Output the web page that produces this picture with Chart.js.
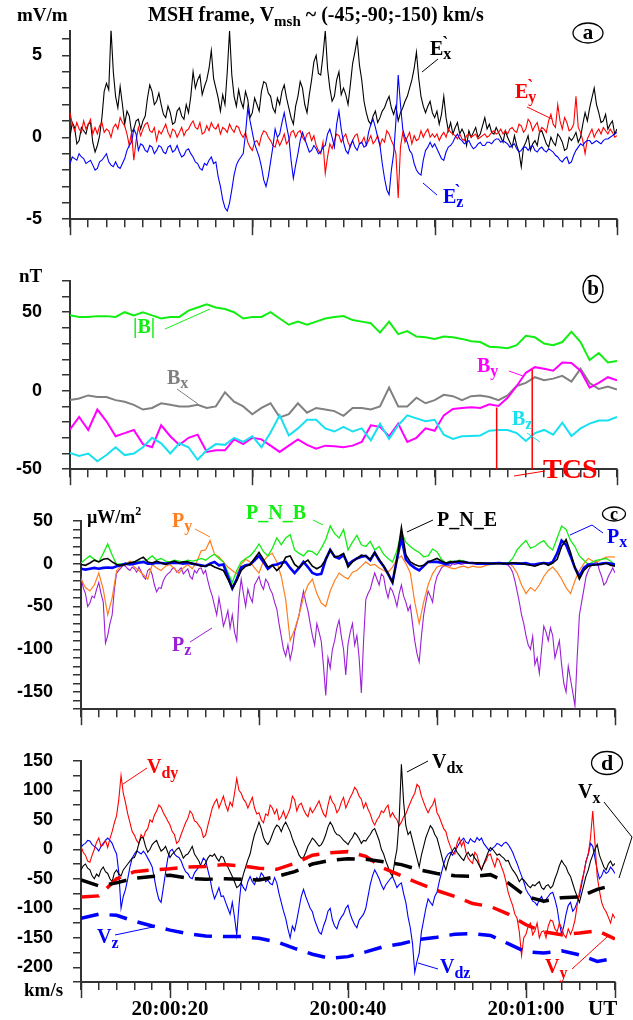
<!DOCTYPE html>
<html>
<head>
<meta charset="utf-8">
<script src="https://cdn.jsdelivr.net/npm/chart.js@4.4.0/dist/chart.umd.min.js"></script>
<style>
body{margin:0;background:#fff;}
#wrap{position:relative;width:633px;height:1020px;overflow:hidden;}
canvas{position:absolute;left:0;}
</style>
</head>
<body>
<div id="wrap">
<canvas id="pa" width="633" height="250" style="top:0px"></canvas>
<canvas id="pb" width="633" height="250" style="top:250px"></canvas>
<canvas id="pc" width="633" height="250" style="top:490px"></canvas>
<canvas id="pd" width="633" height="290" style="top:730px"></canvas>
</div>
<script>
/* =========================
   DATA  (seconds after 20:00:00)
========================= */

const T_START = 10;
const T_END = 70;
const STEP_Q = 0.25;     // densest traces
const STEP_FINE = 0.5;   // other noisy traces
const STEP_B = 1;        // magnetic field
const STEP_MODEL = 2;    // dashed model velocity

const timeLabels = ['20:00:20', '20:00:40', '20:01:00'];
const timeLabelAt = [20, 40, 60];

// panel a : electric field, mV/m  (0.25 s)
const exVals = [0.0,0.9,0.6,-0.4,-0.2,0.6,0.4,0.2,0.8,0.9,-0.3,-0.9,-0.5,0.1,1.2,2.8,3.3,2.9,6.6,4.0,
 2.5,1.8,3.1,2.0,0.8,1.6,1.3,0.3,0.5,1.0,1.1,0.5,1.0,1.3,2.4,3.2,2.8,2.0,2.2,2.7,
 2.0,1.4,1.2,1.9,1.5,0.8,0.9,1.6,1.8,1.3,1.1,2.0,1.5,2.5,4.0,3.0,3.5,3.8,2.6,3.1,
 3.5,4.2,5.3,3.6,3.0,2.4,1.6,2.6,2.0,4.0,6.5,3.8,2.5,1.9,2.9,2.2,1.8,2.8,2.3,1.2,
 1.5,2.4,2.0,1.6,2.8,3.4,3.3,2.7,2.5,1.8,1.5,2.4,2.0,2.8,3.2,2.4,1.8,1.2,0.8,1.9,
 2.5,3.4,3.0,2.0,1.5,2.6,3.5,4.6,5.0,3.9,3.8,5.0,6.5,4.2,3.0,2.2,2.5,3.5,4.0,2.6,
 3.0,2.6,2.0,3.2,4.5,5.2,6.0,4.4,3.5,2.2,1.5,1.0,0.8,1.3,1.6,0.9,1.2,1.6,1.8,2.2,
 2.5,1.8,1.4,1.9,1.0,1.5,1.8,2.2,2.5,3.0,3.5,4.2,5.2,3.6,2.5,1.9,1.5,1.9,2.2,1.5,
 1.2,1.6,0.8,1.4,2.5,1.2,0.4,0.9,0.2,0.6,0.9,0.2,0.5,0.2,-0.5,0.4,0.0,0.3,0.6,0.0,
 0.2,0.7,1.2,0.5,0.8,0.3,0.2,0.6,0.3,0.0,-0.3,0.4,0.0,-0.3,-0.6,0.1,-0.5,-0.9,-1.8,-0.6,
 -0.3,0.1,-0.8,-0.4,-0.2,-0.5,0.3,0.4,0.0,-0.4,-0.6,0.0,-0.3,-0.5,0.2,0.0,-0.3,-0.8,-0.7,0.0,
 -0.2,0.0,0.3,-0.3,0.0,0.8,1.5,1.0,1.8,2.4,3.0,2.0,1.5,0.9,1.0,1.4,0.5,0.8,1.0,0.2,
 0.5];
const eyVals = [1.5,0.8,0.4,0.9,0.5,0.3,1.0,0.5,0.8,1.1,0.2,0.6,0.2,0.7,0.9,0.3,0.5,0.4,0.0,0.6,
 0.8,0.5,1.2,0.9,0.7,0.2,-0.5,0.3,-1.4,-0.2,0.6,0.1,0.5,0.8,0.9,0.4,0.3,0.6,-0.2,0.4,
 0.2,0.5,0.8,0.3,0.0,0.5,0.4,0.0,0.3,0.6,0.1,0.4,0.5,0.8,1.0,0.6,0.5,0.9,0.2,0.3,
 0.7,0.4,0.9,0.6,0.5,0.8,0.2,0.6,0.5,0.3,0.8,0.5,0.3,0.7,0.6,0.2,0.0,0.3,-0.3,-0.6,
 -0.8,-0.3,-0.2,-0.5,0.1,0.4,0.3,0.0,-0.2,-0.5,-0.6,-0.1,-0.5,-0.2,0.2,-0.4,-0.2,0.3,0.4,0.0,
 0.3,0.4,0.0,-0.2,0.2,0.3,-0.2,0.1,-0.5,-0.8,-1.0,-0.3,-2.2,-1.2,-0.4,-0.7,-0.2,0.2,0.1,-0.3,
 0.0,0.2,-0.3,-0.6,-0.2,0.1,0.2,-0.4,-0.3,0.0,-0.5,-0.2,0.1,-0.4,-0.2,0.1,-0.5,-0.1,-0.3,0.4,
 0.2,-0.2,-0.5,-1.0,-3.7,-0.6,0.3,-0.3,0.0,0.3,-0.4,0.1,-0.2,-0.1,0.4,0.0,0.3,0.5,0.0,0.2,
 0.0,0.2,-0.2,0.1,0.3,0.0,0.5,0.3,0.2,0.1,-0.1,0.2,-0.1,-0.2,0.1,0.2,0.0,0.1,0.2,-0.1,
 0.0,0.1,0.2,0.0,0.1,0.3,0.4,0.2,0.3,0.5,0.2,0.4,0.2,0.5,0.6,0.4,0.3,0.8,0.7,0.3,
 0.5,1.1,0.9,0.4,0.7,0.9,0.3,0.6,0.5,0.3,1.0,1.4,0.8,0.6,2.0,1.0,0.5,1.2,0.9,0.4,
 0.5,0.8,2.5,0.6,0.3,-0.2,-1.0,-0.1,0.2,0.5,0.0,0.3,0.5,0.2,0.6,0.4,0.2,0.5,0.3,0.0,
 0.1];
const ezVals = [-1.6,-1.2,-1.3,-1.4,-1.0,-1.2,-1.3,-1.6,-1.5,-1.4,-1.7,-2.0,-1.9,-1.5,-1.4,-1.2,-1.0,-1.5,-1.7,-1.8,
 -1.5,-1.8,-1.9,-1.6,-1.3,-0.8,-0.5,-0.3,0.5,0.2,-0.8,-0.4,-0.5,-0.8,-0.9,-0.5,-0.6,-1.0,-0.8,-0.5,
 -0.6,-0.9,-1.0,-0.6,-0.5,-0.9,-0.8,-0.5,-0.9,-1.2,-1.1,-0.8,-0.7,-1.0,-1.2,-1.5,-1.6,-1.9,-2.0,-1.6,
 -1.7,-1.4,-1.2,-1.6,-1.5,-2.4,-3.0,-3.8,-4.3,-4.5,-4.0,-3.2,-2.3,-1.7,-1.4,-1.2,-1.0,0.2,1.8,1.0,
 0.3,-0.4,-0.8,-1.2,-1.8,-2.6,-3.0,-2.4,-1.5,-0.6,0.5,0.0,0.2,0.9,1.5,0.7,0.0,-1.4,-2.5,-1.7,
 -1.0,-0.2,0.3,-0.1,-0.5,-0.9,-0.8,-0.5,-0.7,-1.0,-0.9,-0.6,-0.5,0.2,0.5,0.0,-0.6,0.8,1.6,0.5,
 -0.3,-0.8,-1.0,-0.5,-0.2,-0.6,-0.8,-0.4,-0.3,-0.6,-0.5,0.3,0.8,1.1,0.6,0.0,-0.5,-1.6,-2.5,-3.2,
 -3.5,-2.0,-1.0,1.0,3.8,2.0,0.5,0.0,-0.3,-0.8,-1.0,-1.6,-2.0,-2.2,-2.3,-1.4,-0.8,-0.6,-0.3,-0.6,
 -0.4,-0.7,-1.0,-1.3,-1.4,-0.9,-0.6,-0.5,-0.3,0.0,0.2,-0.1,-0.2,-0.4,-0.3,-0.2,-0.5,-0.7,-0.6,-0.4,
 -0.3,-0.5,-0.5,-0.3,-0.3,-0.4,-0.2,-0.1,-0.1,-0.3,-0.2,-0.3,-0.4,-0.6,-0.5,-0.4,-0.7,-0.9,-0.8,-0.6,
 -0.6,-0.8,-0.6,-0.5,-0.8,-0.9,-0.7,-0.6,-0.8,-0.9,-0.7,-0.8,-0.9,-1.1,-1.2,-1.4,-1.5,-1.3,-1.2,-1.6,
 -1.5,-1.1,-0.8,-0.6,-0.4,-0.5,-0.3,-0.2,-0.2,-0.4,-0.3,-0.2,-0.3,-0.4,-0.2,-0.1,-0.1,0.0,0.1,0.2,
 0.3];

// panel b : magnetic field, nT  (1 s)
const bAbsVals = [48,47,47,47.5,47.5,47,50,48,50,48,
 46,47,47,51,53,55,53,52,50,46,
 47,47,50,46,42,44,42,44,46,47,
 47.5,45,44,43,37,44,36,38,34.5,34,
 33,34.5,34,33,31.5,31,28,27.7,27,29,
 35,34,30,29,31,37.6,31,19.5,24,18,
 19];
const bxVals = [-6,-5,-3,-4,-4,-6,-7,-9,-12,-11,
 -8,-9,-10,-10,-9,-11,-10,-1,-7,-10,
 -15,-11,-8,-17,-15,-8,-14,-11,-12,-13,
 -16,-11,-11,-12,-10,2,-10,-10,-4.5,-8,
 -6,-2.6,-3.5,-6,-3.5,-3,-4,-6,-3,3,
 5,8.6,6.7,7.7,9.5,5.8,13.9,4.9,1.1,2.6,
 0.7];
const byVals = [-24.7,-16.7,-25,-12,-19.5,-29,-27,-25,-34,-36,
 -22,-29,-34.5,-30,-28,-39,-38,-38,-31,-34,
 -30,-31,-35,-39,-35,-31,-34.5,-37,-35,-35.4,
 -36,-35,-32.6,-22,-23,-29,-21,-32.6,-30,-24,
 -25.5,-15.7,-11.6,-11,-10.5,-11,-8.6,-9.7,-4.5,3,
 11.4,15,14,12.7,18,17.6,12.7,2,5,8.6,
 6.7];
const bzVals = [-39.7,-41.6,-40,-45,-41,-36,-41,-40,-36,-30,
 -33.5,-40,-33.5,-36,-44,-38,-34,-34.5,-30,-32.6,
 -29,-36,-26.6,-15.7,-28.5,-24,-18.5,-18.5,-24,-26,
 -23,-26,-24,-31.6,-21,-30.7,-22,-15.7,-17.6,-19.5,
 -18.5,-28,-30.7,-29,-28.8,-28.5,-25.5,-25,-25,-27,
 -32,-27,-25,-28,-20.4,-28.8,-24,-21,-19,-19,
 -16.7];
const tcsTimes = [56.8, 60.7];
const tcsTops = [-10.7, 13.5];

// panel c : Poynting flux, uW/m2
const pzVals = [-15,-28,-35,-50,-46,-38,-40,-30,-22,-35,-45,-93,-84,-70,-60,-30,-11,-8,-5,-2,
 -3,-6,-8,-4,-6,-10,-4,-9,-15,-18,-8,-6,-13,-25,-33,-28,-29,-20,-15,-12,
 -10,-6,-5,-10,-8,-5,-12,-9,-6,-15,-18,-8,-11,-6,-5,-12,-8,-20,-30,-38,
 -49,-60,-40,-55,-73,-65,-55,-75,-60,-80,-90,-40,-18,-35,-50,-30,-39,-45,-25,-20,
 -15,-25,-30,-18,-22,-30,-35,-45,-53,-70,-85,-100,-108,-95,-112,-100,-80,-70,-60,-45,
 -32,-45,-55,-70,-84,-95,-70,-80,-91,-120,-154,-110,-122,-100,-90,-75,-66,-85,-100,-130,
 -94,-80,-70,-95,-84,-110,-151,-90,-42,-35,-30,-20,-11,-18,-25,-12,-15,-30,-40,-28,
 -32,-40,-50,-35,-25,-38,-45,-55,-49,-70,-90,-105,-115,-85,-60,-45,-32,-38,-45,-25,
 -15,-10,-5,-3,-1,-2,-3,0,-1,0,0,-1,0,0.5,1,0,0.7,0.5,0,0.5,
 0.7,0.3,0.5,0.6,0.7,0.4,0.5,0.7,0.7,0.3,0,-1,-2,-5,-10,-20,-32,-45,-60,-70,
 -84,-95,-100,-85,-118,-110,-128,-100,-73,-80,-90,-75,-84,-110,-100,-90,-118,-140,-150,-120,
 -135,-150,-166,-110,-60,-45,-30,-15,-8,-3,0,1,2,-8,-15,-25,-22,-15,-10,-5,
 -11];
const pyVals = [-18,-28,-32,-25,-11,-30,-60,-40,-8,-3,
 -1,3,-4,-8,-13,-18,-1,-5,-8,-3,
 -1,-6,-11,-5,-1,-6,2,15,16,27,
 11,8,2,-4,-8,-12,-1,5,2,-5,
 -11,3,9,12,2,-15,-42,-90,-77,-60,
 -39,-25,-18,-35,-46,-50,-32,-20,-11,-15,
 -18,-10,-8,-3,2,-2,-1,-5,-8,-10,
 -4,5,9,0,-11,-45,-70,-45,-25,-12,
 -4,-2,-3,-5,-6,-4,-3,-5,-3,-4,
 -4,-2,-1,0,0.7,0,0.7,-3,-11,-25,
 -35,-28,-32,-25,-15,-8,-4,-10,-18,-28,
 -35,-20,-8,0,6,3,2,5,7.6,8,
 7.6];
const pnbVals = [0.7,5,9,5,2,12,23,10,-1,0,
 -1,1,0.7,3,2,5,9,4,6,3,
 2,4,3,2,4,3,4,6,4,8,
 11,6,2,-10,-22,-8,2,6,9,15,
 23,14,9,18,30,22,30,34,16,12,
 9,15,14,10,18,28,44,35,30,40,
 16,25,33,22,20,26,16,20,11,6,
 2,15,37,25,20,16,13,8,9,17,
 14,5,0.7,3,2,4,3,1,0.7,0,
 0.7,0,0.7,0,0.7,1,0.7,6,16,22,
 27,18,20,24,27,20,16,30,44,40,
 27,20,9,4,-1,2,4,5,6,3,
 -1];
const pneVals = [-1,-2,0.7,4,2,5,6,2,-1,-2,
 -1,1,2,5,7.6,2,0.7,3,0.7,-1,
 1.4,3,0.7,2,2,0,-1,-3,-3,-1,
 -4,-6,-8,-18,-29,-20,-8,-3,-1,6,
 13,5,-4,-2,-8,-3,7.6,9,-1,-5,
 0.7,4,-3,-6,-3,5,16,8,9,12,
 -4,2,6,10,9,5,13,5,-3,-12,
 -22,5,42,10,2,-1,-3,-2,2,4,
 6,3,0.7,2,2,3,2,1,0.7,1,
 0.7,0.5,0,0,0,0,0,1,0.7,0,
 -1,-2,-3,-1,0.7,-2,0.7,5,20,28,
 13,-5,-18,-8,-3,-2,-1,-1,0.7,-2,
 -3];
const pxVals = [-6,-7,-6,-5,-6,-5,-4.5,-5,-3,-2,
 0,-1,0,1,2,0,0,1,0.7,0,
 0.7,1,0.7,0,0.7,0,-1,-2,-3,0,
 2,-2,-1,-15,-29,-18,-4.5,-2,-1,4,
 9,2,-6,-2,-1,1,2,-5,-11,-5,
 2,-4,-11,-13,-12,5,16,8,6,10,
 -1,3,6,8,9,4,13,4,-3,-12,
 -22,5,30,5,-1,-5,-8,-3,2,2,
 2,1,-1,1,2,1,2,1,0.7,0,
 0,0,0,0.5,0.7,0,0,0.5,0,0,
 0.7,-1,-1,0,0.7,0,2,12,27,22,
 9,-5,-15,-5,-1,-1,-1,0,0.7,0,
 -1];

// panel d : velocities, km/s
const vdyVals = [5,-5,-10,-20,-22,-10,0,12,19,5,8,15,3,18,30,45,57,85,125,95,
 79,60,45,30,24,15,10,25,19,30,35,50,46,58,65,75,71,62,55,48,
 41,30,25,10,14,25,35,45,52,65,60,48,46,40,35,20,24,40,55,70,
 79,85,70,80,90,75,65,80,73,95,120,100,95,85,80,70,79,88,70,60,
 62,50,45,60,57,75,70,60,68,50,55,65,52,60,70,90,84,65,75,78,
 68,60,55,70,62,68,75,82,70,60,55,75,90,80,75,62,68,80,88,70,
 79,88,95,105,100,90,85,70,79,68,60,48,41,50,55,65,62,70,75,55,
 62,55,50,40,46,55,60,70,79,88,95,110,106,90,80,70,62,70,75,85,
 62,55,45,35,30,15,5,-5,-8,10,20,5,14,-5,-15,-20,-24,-5,-10,-25,
 -35,-25,-20,-10,-8,-20,-30,-15,-19,-30,-40,-55,-73,-85,-95,-110,-117,-140,-180,-150,
 -144,-130,-125,-145,-138,-125,-150,-140,-138,-150,-130,-120,-122,-135,-140,-125,-133,-145,-150,-135,
 -144,-135,-120,-95,-73,-55,-40,-20,-8,20,65,10,-46,-70,-90,-100,-106,-115,-125,-110,
 -117];
const vdxVals = [-35,-28,-25,-32,-35,-45,-50,-42,-46,-35,-30,-38,-41,-50,-55,-40,-35,-42,-45,-35,
 -30,-25,-20,-15,-14,-5,10,20,19,5,-5,0,8,12,15,5,-3,0,5,-5,
 -14,-8,-5,0,3,-5,-15,-10,-8,-2,5,-8,-14,-20,-30,-28,-24,-15,-10,-12,
 -8,-15,-20,-12,-14,-25,-30,-38,-46,-55,-65,-62,-57,-42,-30,-18,-8,10,25,35,
 46,35,20,12,8,15,25,35,41,38,30,40,46,38,30,18,8,0,-10,-15,
 -14,-5,5,12,19,15,10,5,8,15,25,38,46,40,30,25,24,20,15,12,
 8,15,20,28,24,18,10,15,14,20,25,32,35,25,15,0,-8,-20,-30,-40,
 -46,-20,0,50,144,80,40,25,30,15,0,-15,-30,-10,5,20,30,40,35,25,
 19,5,-10,-25,-35,-20,-10,-2,3,-5,-10,-15,-19,-10,-5,-12,-8,-15,-20,-28,
 -35,-25,-15,-5,3,0,-5,-10,-8,-12,-15,-20,-19,-28,-35,-40,-46,-55,-50,-52,
 -57,-62,-65,-60,-62,-58,-55,-65,-68,-62,-60,-66,-62,-50,-40,-28,-19,-25,-30,-40,
 -46,-58,-70,-80,-90,-75,-60,-45,-35,-20,-10,0,8,-10,-20,-30,-35,-25,-20,-28,
 -24];
const vdzVals = [3,8,10,15,14,8,5,2,-3,5,10,15,19,15,10,0,-8,-40,-100,-80,
 -68,-50,-30,-15,-8,-3,-5,-8,-3,-8,-15,-22,-30,-50,-70,-85,-90,-65,-40,-15,
 -3,0,-8,-12,-14,-20,-30,-38,-41,-48,-50,-40,-35,-30,-25,-15,-19,-35,-50,-70,
 -84,-75,-65,-80,-79,-90,-100,-110,-90,-115,-145,-95,-57,-65,-70,-55,-46,-55,-60,-48,
 -52,-40,-45,-55,-52,-58,-60,-48,-57,-75,-90,-105,-117,-135,-150,-130,-138,-120,-100,-80,
 -68,-80,-90,-100,-106,-120,-130,-140,-144,-130,-120,-105,-100,-120,-130,-135,-122,-115,-110,-100,
 -95,-110,-120,-128,-133,-120,-115,-110,-100,-80,-60,-45,-35,-42,-50,-60,-68,-60,-55,-50,
 -46,-55,-65,-60,-57,-75,-90,-115,-133,-160,-209,-190,-176,-140,-120,-100,-84,-90,-95,-80,
 -73,-55,-40,-25,-14,-8,-5,-10,-3,3,10,15,19,12,10,18,14,12,20,15,
 19,10,5,0,-3,2,5,10,8,5,10,12,8,2,-5,-15,-24,-35,-45,-55,
 -68,-75,-80,-88,-90,-95,-85,-80,-90,-85,-80,-75,-73,-85,-100,-125,-144,-130,-110,-95,
 -90,-105,-100,-90,-79,-60,-40,-20,-8,10,5,-15,-35,-50,-45,-35,-41,-38,-30,-35,
 -41];
const vxModel = [-52,-62,-57,-49,-46,-44,-49,-51,-50,-51,-52,-46,-38,-25,-19,-16,
 -17,-21,-26,-35,-41,-45,-46,-43,-57,-80,-88,-82,-81,-68,-60];
const vyModel = [-81,-79,-50,-38,-35,-33,-30,-29,-26,-28,-32,-34,-24,-10,-6,-4,
 -12,-32,-45,-58,-70,-80,-92,-97,-110,-128,-140,-145,-142,-138,-152];
const vzModel = [-117,-110,-112,-122,-130,-137,-143,-147,-148,-148,-151,-157,-168,-178,-185,-182,
 -174,-165,-160,-153,-149,-144,-143,-146,-160,-174,-176,-172,-179,-190,-185];


/* =========================
   HELPERS
========================= */

const AXIS = '#333333';
const GREEN = '#11ee11';
const SERIF = '"Liberation Serif", "Times New Roman", serif';

function pts(vals, step){
    return vals.map((v, i) => ({ x: T_START + i * step, y: v }));
}

function range(a, b, s){
    let out = [];
    for(let v = a; v <= b + 1e-9; v += s){ out.push(Math.round(v * 100) / 100); }
    return out;
}

function line(color, vals, step, width, dash){
    return {
        data: pts(vals, step),
        borderColor: color,
        borderWidth: width,
        borderDash: dash || [],
        pointRadius: 0,
        tension: 0,
        fill: false
    };
}

// parts: [text, size, dy, dx]
function txt(ctx, x, y, color, parts){
    ctx.fillStyle = color;
    ctx.textAlign = 'left';
    ctx.textBaseline = 'alphabetic';
    let cx = x;
    for(const p of parts){
        ctx.font = 'bold ' + p[1] + 'px ' + SERIF;
        cx += p[3] || 0;
        ctx.fillText(p[0], cx, y + (p[2] || 0));
        cx += ctx.measureText(p[0]).width;
    }
}

function poly(ctx, color, list, w){
    ctx.strokeStyle = color;
    ctx.lineWidth = w || 1;
    ctx.setLineDash([]);
    ctx.beginPath();
    ctx.moveTo(list[0][0], list[0][1]);
    for(let i = 1; i < list.length; i++){ ctx.lineTo(list[i][0], list[i][1]); }
    ctx.stroke();
}

function circled(ctx, cx, cy, rx, ry, letter, size){
    ctx.strokeStyle = '#000';
    ctx.lineWidth = 1.3;
    ctx.beginPath();
    ctx.ellipse(cx, cy, rx, ry, 0, 0, Math.PI * 2);
    ctx.stroke();
    ctx.fillStyle = '#000';
    ctx.font = 'bold ' + size + 'px ' + SERIF;
    ctx.textAlign = 'center';
    ctx.textBaseline = 'middle';
    ctx.fillText(letter, cx, cy + 1);
}


/* =========================
   PANEL FACTORY
========================= */

function makePanel(cfg){

    const canvas = document.getElementById(cfg.id);
    const top = cfg.canvasTop;
    const h = canvas.height;

    const extra = {
        id: 'extra_' + cfg.id,
        afterDraw(chart){
            const ctx = chart.ctx;
            const x = chart.scales.x;
            const area = chart.chartArea;
            ctx.save();

            // long major ticks
            ctx.strokeStyle = AXIS;
            ctx.lineWidth = 1.5;
            ctx.setLineDash([]);
            cfg.majors.forEach(t => {
                const px = Math.round(x.getPixelForValue(t)) + 0.5;
                ctx.beginPath();
                ctx.moveTo(px, area.bottom);
                ctx.lineTo(px, area.bottom + 16);
                ctx.stroke();
            });

            ctx.translate(0, -top);
            cfg.draw(ctx, chart);
            ctx.restore();
        }
    };

    return new Chart(canvas, {
        type: 'line',
        data: { datasets: cfg.datasets },
        options: {
            responsive: false,
            animation: false,
            events: [],
            layout: {
                padding: { left: 0, right: 633 - cfg.right, top: cfg.top - top, bottom: 0 }
            },
            plugins: { legend: { display: false }, tooltip: { enabled: false } },
            scales: {
                x: {
                    type: 'linear',
                    min: T_START,
                    max: T_END,
                    afterFit: s => { s.height = top + h - cfg.bottom; },
                    afterBuildTicks: s => { s.ticks = range(T_START, T_END, 2).map(v => ({ value: v })); },
                    ticks: { callback: () => '', autoSkip: false, maxRotation: 0, padding: 0 },
                    grid: { drawOnChartArea: false, drawTicks: true, tickLength: 8, color: AXIS, lineWidth: 1.5 },
                    border: { display: true, color: AXIS, width: 2 }
                },
                y: {
                    min: cfg.yMin,
                    max: cfg.yMax,
                    afterFit: s => { s.width = cfg.left; },
                    afterBuildTicks: s => { s.ticks = cfg.yTicks.map(v => ({ value: v })); },
                    ticks: {
                        autoSkip: false,
                        padding: 20,
                        color: '#000',
                        font: { family: '"Liberation Sans", Arial, sans-serif', weight: 'bold', size: 18 },
                        callback: v => (v % cfg.yLabelEvery === 0 ? String(v) : '')
                    },
                    grid: { drawOnChartArea: false, drawTicks: true, tickLength: 8, color: AXIS, lineWidth: 1.5 },
                    border: { display: true, color: AXIS, width: 2 }
                }
            }
        },
        plugins: [extra]
    });
}


/* =========================
   PANEL A
========================= */

makePanel({
    id: 'pa', canvasTop: 0,
    left: 70, right: 617, top: 25, bottom: 230,
    yMin: -5, yMax: 6.5, yTicks: range(-5, 6, 1), yLabelEvery: 5,
    majors: [10, 30, 50, 70],
    datasets: [
        line('#0000ff', ezVals, STEP_Q, 1.1),
        line('#ff0000', eyVals, STEP_Q, 1.1),
        line('#000000', exVals, STEP_Q, 1.1)
    ],
    draw(ctx){
        txt(ctx, 17, 21, '#000', [['mV/m', 19]]);
        txt(ctx, 148, 21, '#000', [['MSH frame, V', 20], ['msh', 15, 5], [' ~ (-45;-90;-150) km/s', 20]]);
        circled(ctx, 588, 33, 15, 10, 'a', 21);

        txt(ctx, 430, 55, '#000', [['E', 20], ['x', 16, 4], ['`', 18, -6, -9]]);
        poly(ctx, '#000', [[422, 72], [438, 59]]);

        txt(ctx, 515, 98, '#ff0000', [['E', 20], ['y', 16, 4], ['`', 18, -6, -9]]);
        poly(ctx, '#ff0000', [[527, 107], [552, 119]]);

        txt(ctx, 443, 203, '#0000ff', [['E', 20], ['z', 16, 4], ['`', 18, -6, -9]]);
        poly(ctx, '#0000ff', [[423, 183], [437, 195]]);
    }
});


/* =========================
   PANEL B
========================= */

makePanel({
    id: 'pb', canvasTop: 250,
    left: 70, right: 617, top: 269, bottom: 482,
    yMin: -50, yMax: 70, yTicks: range(-50, 70, 10), yLabelEvery: 50,
    majors: [10, 30, 50, 70],
    datasets: [
        line('#18e0f0', bzVals, STEP_B, 2),
        line('#ff00ff', byVals, STEP_B, 2),
        line('#808080', bxVals, STEP_B, 2),
        line(GREEN, bAbsVals, STEP_B, 2)
    ],
    draw(ctx, chart){
        const x = chart.scales.x, y = chart.scales.y;

        // TCS markers
        tcsTimes.forEach((t, i) => {
            const px = x.getPixelForValue(t);
            poly(ctx, '#ff0000', [[px, y.getPixelForValue(-50) + 250], [px, y.getPixelForValue(tcsTops[i]) + 250]], 1.5);
        });

        txt(ctx, 19, 282, '#000', [['nT', 19]]);
        circled(ctx, 593, 289, 10, 13.5, 'b', 21);

        txt(ctx, 133, 333, GREEN, [['|B|', 20]]);
        poly(ctx, GREEN, [[165, 329], [210, 309]]);

        txt(ctx, 167, 384, '#808080', [['B', 20], ['x', 16, 4]]);
        poly(ctx, '#808080', [[177, 389], [198, 404]]);

        txt(ctx, 477, 372, '#ff00ff', [['B', 20], ['y', 16, 4]]);
        poly(ctx, '#ff00ff', [[509, 371], [523, 376]]);

        txt(ctx, 512, 425, '#18e0f0', [['B', 20], ['z', 16, 4]]);
        poly(ctx, '#18e0f0', [[527, 433], [540, 442]]);

        txt(ctx, 543, 478, '#ff0000', [['TCS', 28]]);
        poly(ctx, '#ff0000', [[514, 476], [545, 471]]);
    }
});


/* =========================
   PANEL C
========================= */

makePanel({
    id: 'pc', canvasTop: 490,
    left: 81, right: 615, top: 511, bottom: 723,
    yMin: -170, yMax: 50, yTicks: range(-170, 50, 10), yLabelEvery: 50,
    majors: [10, 30, 50, 70],
    datasets: [
        line('#000000', pneVals, STEP_FINE, 1.6),
        line('#0000ff', pxVals, STEP_FINE, 2.6),
        line(GREEN, pnbVals, STEP_FINE, 1.3),
        line('#ff7f1e', pyVals, STEP_FINE, 1.2),
        line('#9b1fd6', pzVals, STEP_Q, 1.1)
    ],
    draw(ctx){
        txt(ctx, 87, 523, '#000', [['\u00b5W/m', 18], ['2', 12, -8]]);
        circled(ctx, 614, 514, 11.5, 7, 'c', 18);

        txt(ctx, 172, 527, '#ff7f1e', [['P', 20], ['y', 16, 4]]);
        poly(ctx, '#ff7f1e', [[195, 529], [210, 537]]);

        txt(ctx, 246, 519, GREEN, [['P_N_B', 20]]);
        poly(ctx, GREEN, [[313, 520], [323, 525]]);

        txt(ctx, 172, 651, '#9b1fd6', [['P', 20], ['z', 16, 4]]);
        poly(ctx, '#9b1fd6', [[190, 642], [212, 628]]);

        txt(ctx, 437, 526, '#000', [['P_N_E', 20]]);
        poly(ctx, '#000', [[407, 532], [433, 520]]);

        txt(ctx, 607, 543, '#0000ff', [['P', 20], ['x', 16, 4]]);
        poly(ctx, '#0000ff', [[570, 535], [592, 525], [603, 533]]);
    }
});


/* =========================
   PANEL D
========================= */

makePanel({
    id: 'pd', canvasTop: 730,
    left: 81, right: 615, top: 752, bottom: 982,
    yMin: -225, yMax: 150, yTicks: range(-225, 150, 25), yLabelEvery: 50,
    majors: [10, 20, 40, 60, 70],
    datasets: [
        line('#000000', vxModel, STEP_MODEL, 3.5, [18, 11]),
        line('#ff0000', vyModel, STEP_MODEL, 3.5, [18, 11]),
        line('#0000ff', vzModel, STEP_MODEL, 3.5, [18, 11]),
        line('#000000', vdxVals, STEP_Q, 1.1),
        line('#ff0000', vdyVals, STEP_Q, 1.1),
        line('#0000ff', vdzVals, STEP_Q, 1.1)
    ],
    draw(ctx, chart){
        const x = chart.scales.x;

        // time labels
        ctx.fillStyle = '#000';
        ctx.font = 'bold 21px ' + SERIF;
        ctx.textAlign = 'center';
        ctx.textBaseline = 'alphabetic';
        timeLabels.forEach((s, i) => {
            ctx.fillText(s, x.getPixelForValue(timeLabelAt[i]), 1015);
        });
        txt(ctx, 588, 1015, '#000', [['UT', 21]]);
        txt(ctx, 24, 996, '#000', [['km/s', 19]]);

        circled(ctx, 607, 763, 15.5, 11.5, 'd', 22);

        txt(ctx, 147, 773, '#ff0000', [['V', 20], ['dy', 16, 5]]);
        poly(ctx, '#ff0000', [[123, 784], [147, 768]]);

        txt(ctx, 97, 943, '#0000ff', [['V', 20], ['z', 16, 5]]);
        poly(ctx, '#0000ff', [[115, 935], [153, 927]]);

        txt(ctx, 432, 768, '#000', [['V', 20], ['dx', 16, 5]]);
        poly(ctx, '#000', [[407, 772], [428, 761]]);

        txt(ctx, 440, 973, '#0000ff', [['V', 20], ['dz', 16, 5]]);
        poly(ctx, '#0000ff', [[418, 963], [438, 969]]);

        txt(ctx, 578, 798, '#000', [['V', 20], ['x', 16, 5]]);
        poly(ctx, '#000', [[604, 802], [632, 837], [619, 878]]);

        txt(ctx, 545, 973, '#ff0000', [['V', 20], ['y', 16, 5]]);
        poly(ctx, '#ff0000', [[572, 969], [607, 937]]);
    }
});
</script>
</body>
</html>
